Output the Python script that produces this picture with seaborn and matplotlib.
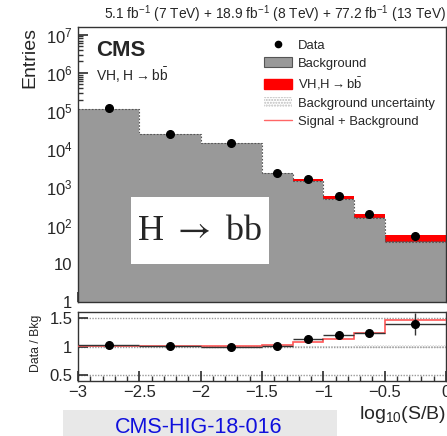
import numpy as np
import pandas as pd
import matplotlib
matplotlib.use("Agg")
import matplotlib.pyplot as plt
import seaborn as sns
from matplotlib.lines import Line2D
from matplotlib.patches import Patch, Rectangle

# ---------------- data ----------------
bin_edges = [-3.0, -2.5, -2.0, -1.5, -1.25, -1.0, -0.75, -0.5, 0.0]
background = [1.15e5, 2.55e4, 1.48e4, 2.35e3, 1.50e3, 510, 163, 38]
signal = [120, 60, 60, 60, 120, 70, 38, 17.5]
data_counts = [1.18e5, 2.56e4, 1.47e4, 2.37e3, 1.70e3, 612, 202, 53]
ratio_err = [0.003, 0.006, 0.008, 0.02, 0.025, 0.045, 0.06, 0.19]
bkg_rel_unc = [0.006, 0.006, 0.006, 0.008, 0.01, 0.015, 0.02, 0.025]

xticks = [-3, -2.5, -2, -1.5, -1, -0.5, 0]
xtick_labels = ["\u22123", "\u22122.5", "\u22122", "\u22121.5", "\u22121", "\u22120.5", "0"]
yticks_main = [1, 10, 1e2, 1e3, 1e4, 1e5, 1e6, 1e7]
ytick_labels_main = ["1", "10", "$10^{2}$", "$10^{3}$", "$10^{4}$", "$10^{5}$", "$10^{6}$", "$10^{7}$"]
yticks_ratio = [0.5, 1, 1.5]
ytick_labels_ratio = ["0.5", "1", "1.5"]

# ---------------- derived arrays ----------------
edges = np.array(bin_edges)
centers = 0.5 * (edges[:-1] + edges[1:])
halfw = 0.5 * (edges[1:] - edges[:-1])
bkg = np.array(background)
sig = np.array(signal)
dat = np.array(data_counts)
tot = bkg + sig

df = pd.DataFrame({"x": centers, "bkg": bkg, "tot": tot})

# ---------------- style ----------------
sns.set_theme(style="ticks")
plt.rcParams["font.family"] = ["Liberation Sans", "DejaVu Sans"]
plt.rcParams["mathtext.fontset"] = "custom"
plt.rcParams["mathtext.rm"] = "Liberation Sans"
plt.rcParams["mathtext.it"] = "Liberation Sans:italic"
plt.rcParams["mathtext.bf"] = "Liberation Sans:bold"
plt.rcParams["axes.edgecolor"] = "#333333"
plt.rcParams["axes.linewidth"] = 1.0

GREY = "#999999"
RED = "#ff0000"

fig = plt.figure(figsize=(4.47, 4.36), dpi=100)
ax = fig.add_axes([78 / 447, 1 - 302 / 436, 368 / 447, 275 / 436])
rax = fig.add_axes([78 / 447, 1 - 381 / 436, 368 / 447, 69 / 436])

# ---------------- main panel ----------------
sns.histplot(data=df, x="x", weights="tot", bins=list(bin_edges), element="step",
             fill=True, color=RED, alpha=1, linewidth=0, ax=ax)
sns.histplot(data=df, x="x", weights="bkg", bins=list(bin_edges), element="step",
             fill=True, color=GREY, alpha=1, linewidth=0, ax=ax)
# background uncertainty band (hatched)
lo = np.append(bkg * (1 - np.array(bkg_rel_unc)), bkg[-1] * (1 - bkg_rel_unc[-1]))
hi = np.append(bkg * (1 + np.array(bkg_rel_unc)), bkg[-1] * (1 + bkg_rel_unc[-1]))
ax.fill_between(edges, lo, hi, step="post", facecolor="none",
                edgecolor="#555555", hatch="......", linewidth=0)
ax.stairs(bkg, edges, baseline=None, color="#555555", linewidth=0.8,
          linestyle=(0, (1.5, 1.5)))
ax.errorbar(centers, dat, yerr=np.sqrt(dat), fmt="o", color="black",
            markersize=5.5, elinewidth=1, capsize=0, zorder=5)

ax.set_yscale("log")
ax.set_xlim(-3, 0)
ax.set_ylim(1, 10 ** 7.2)
ax.set_yticks(yticks_main)
ax.set_yticklabels(ytick_labels_main)
ax.set_xticks(xticks)
ax.set_xticklabels([])
ax.xaxis.set_minor_locator(matplotlib.ticker.MultipleLocator(0.1))
ax.set_xlabel("")
ax.set_ylabel("")
ax.tick_params(which="both", direction="in", top=False, right=False,
               labelsize=12, color="#333333", pad=4)
ax.tick_params(which="major", length=7)
ax.tick_params(which="minor", length=3.5)

# legend
handles = [
    Line2D([], [], marker="o", color="black", linestyle="none", markersize=4.5),
    Patch(facecolor=GREY, edgecolor="#555555", linewidth=0.8),
    Patch(facecolor=RED, edgecolor=RED),
    Patch(facecolor="white", edgecolor="#bbbbbb", hatch="......", linewidth=0),
    Line2D([], [], color="#ff6666", linewidth=1),
]
labels = ["Data", "Background", "VH,H$\\rightarrow$b$\\bar{\\mathrm{b}}$",
          "Background uncertainty", "Signal + Background"]
ax.legend(handles, labels, loc="upper left", bbox_to_anchor=(0.49, 0.975),
          frameon=False, fontsize=9.4, handlelength=2.2, handleheight=0.8,
          labelspacing=0.42, handletextpad=0.45, borderaxespad=0)

# CMS labels
fig.text(96 / 447, 1 - 50 / 436, "CMS", fontsize=16, fontweight="bold",
         ha="left", va="center")
fig.text(96 / 447, 1 - 75 / 436, "VH, H$\\rightarrow$b$\\bar{\\mathrm{b}}$",
         fontsize=10, ha="left", va="center")
fig.text(446 / 447, 1 - 14 / 436,
         "5.1 fb$^{-1}$ (7 TeV) + 18.9 fb$^{-1}$ (8 TeV) + 77.2 fb$^{-1}$ (13 TeV)",
         fontsize=9.9, ha="right", va="center")
fig.text(30 / 447, 1 - 27 / 436, "Entries", fontsize=14, rotation=90,
         ha="center", va="top")
fig.text(36 / 447, 1 - 343 / 436, "Data / Bkg", fontsize=8.8, rotation=90,
         ha="center", va="center")

# H -> bb box
fig.patches.append(Rectangle((131 / 447, 1 - 264 / 436), 138 / 447, 67 / 436,
                             transform=fig.transFigure, facecolor="white",
                             edgecolor="none", zorder=10))
fig.text(199 / 447, 1 - 231 / 436, "H $\\rightarrow$ bb", fontsize=26,
         family=["Liberation Serif", "DejaVu Serif"], math_fontfamily="stix",
         ha="center", va="center", zorder=11)

# ---------------- ratio panel ----------------
for yv in yticks_ratio:
    rax.axhline(yv, color="#999999", linestyle=(0, (1, 1)), linewidth=1, zorder=0)
band_lo = np.append(1 - np.array(bkg_rel_unc), 1 - bkg_rel_unc[-1])
band_hi = np.append(1 + np.array(bkg_rel_unc), 1 + bkg_rel_unc[-1])
rax.fill_between(edges, band_lo, band_hi, step="post", facecolor="none",
                 edgecolor="#aaaaaa", hatch="......", linewidth=0)
rax.stairs(tot / bkg, edges, baseline=None, color="#ff5555", linewidth=1.2,
           zorder=3)
rax.errorbar(centers, dat / bkg, xerr=halfw, yerr=ratio_err, fmt="o",
             color="black", ecolor="#333333", markersize=5.5, elinewidth=1,
             capsize=0, zorder=5)
rax.set_xlim(-3, 0)
rax.set_ylim(0.4, 1.6)
rax.set_yticks(yticks_ratio)
rax.set_yticklabels(ytick_labels_ratio)
rax.set_xticks(xticks)
rax.set_xticklabels(xtick_labels)
rax.xaxis.set_minor_locator(matplotlib.ticker.MultipleLocator(0.1))
rax.tick_params(which="both", direction="in", top=False, right=False,
                labelsize=12, color="#333333", pad=4)
rax.tick_params(which="major", length=7)
rax.tick_params(which="minor", length=3.5)
rax.tick_params(axis="y", which="minor", left=False, right=False)
rax.tick_params(axis="x", pad=3)

fig.text(446 / 447, 1 - 414 / 436, "log$_{10}$(S/B)", fontsize=14,
         ha="right", va="center")

# bottom reference box
fig.patches.append(Rectangle((63 / 447, 0), 274 / 447, 26 / 436,
                             transform=fig.transFigure, facecolor="#e8e8e8",
                             edgecolor="none", zorder=0))
fig.text(199 / 447, 1 - 427 / 436, "CMS-HIG-18-016", fontsize=15.5,
         color="#1010dd", ha="center", va="center")

fig.savefig("out.png", dpi=100)
